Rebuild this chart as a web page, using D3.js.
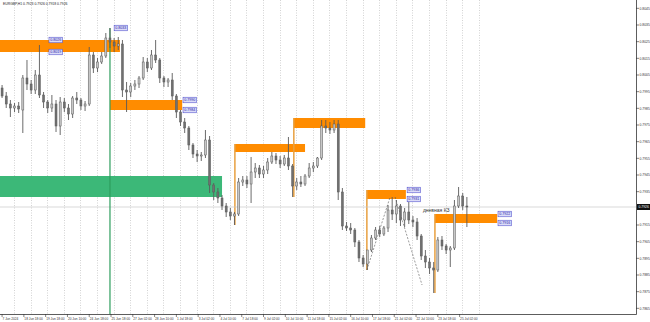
<!DOCTYPE html>
<html lang="en">
<head>
<meta charset="UTF-8">
<title>EURGBP,H1</title>
<script src="https://d3js.org/d3.v7.min.js"></script>
<style>
  body { margin: 0; background: #fff; }
  text { font-family: "Liberation Sans", Arial, sans-serif; }
</style>
</head>
<body>
<svg width="650" height="322"></svg>
<script>
  var openP = [0.79972,0.79924,0.79876,0.79852,0.79864,0.79840,0.80032,0.79996,0.79960,0.80050,
    0.79930,0.79888,0.79852,0.79876,0.79744,0.79888,0.79852,0.79816,0.79912,0.79900,
    0.79864,0.79876,0.80170,0.80092,0.80128,0.80164,0.80272,0.80248,0.80224,0.80236,
    0.79960,0.79948,0.79984,0.79996,0.80032,0.80128,0.80092,0.80170,0.80140,0.80032,
    0.80008,0.80020,0.79924,0.79828,0.79768,0.79732,0.79630,0.79576,0.79564,0.79570,
    0.79660,0.79390,0.79348,0.79312,0.79264,0.79228,0.79204,0.79216,0.79408,0.79420,
    0.79396,0.79468,0.79492,0.79456,0.79480,0.79528,0.79564,0.79540,0.79516,0.79552,
    0.79504,0.79384,0.79408,0.79396,0.79444,0.79492,0.79504,0.79552,0.79744,0.79732,
    0.79720,0.79756,0.79348,0.79144,0.79132,0.79120,0.79048,0.78952,0.78916,0.79000,
    0.79072,0.79120,0.79096,0.79132,0.79240,0.79216,0.79264,0.79180,0.79228,0.79180,
    0.79168,0.79084,0.78964,0.78928,0.78892,0.78880,0.79060,0.79024,0.79000,0.79012,
    0.79264,0.79324,0.79264];
  var highP = [0.79990,0.79948,0.79900,0.79882,0.79888,0.80050,0.80140,0.80020,0.80080,0.80230,
    0.79948,0.79900,0.79930,0.79900,0.79918,0.79912,0.79876,0.79924,0.79948,0.79912,
    0.79894,0.80218,0.80188,0.80152,0.80188,0.80302,0.80332,0.80272,0.80278,0.80260,
    0.80008,0.80002,0.80020,0.80044,0.80158,0.80152,0.80200,0.80260,0.80152,0.80044,
    0.80032,0.80062,0.79936,0.79840,0.79792,0.79744,0.79642,0.79600,0.79588,0.79720,
    0.79684,0.79402,0.79372,0.79330,0.79282,0.79252,0.79228,0.79432,0.79444,0.79444,
    0.79558,0.79522,0.79510,0.79504,0.79552,0.79588,0.79582,0.79564,0.79570,0.79678,
    0.79516,0.79432,0.79444,0.79456,0.79522,0.79528,0.79558,0.79780,0.79780,0.79768,
    0.79780,0.79780,0.79372,0.79168,0.79162,0.79132,0.79060,0.78970,0.78952,0.79090,
    0.79138,0.79144,0.79144,0.79270,0.79318,0.79300,0.79276,0.79252,0.79300,0.79204,
    0.79192,0.79096,0.79000,0.78952,0.78928,0.79078,0.79084,0.79036,0.79024,0.79300,
    0.79378,0.79342,0.79318];
  var lowP = [0.79912,0.79852,0.79798,0.79828,0.79822,0.79702,0.79960,0.79936,0.79936,0.79912,
    0.79852,0.79822,0.79828,0.79708,0.79690,0.79828,0.79780,0.79792,0.79876,0.79840,
    0.79834,0.79864,0.80062,0.80068,0.80116,0.80152,0.80212,0.80188,0.80200,0.79918,
    0.79828,0.79918,0.79960,0.79972,0.80020,0.80068,0.80080,0.80122,0.80002,0.79978,
    0.79978,0.79900,0.79792,0.79744,0.79702,0.79600,0.79552,0.79528,0.79534,0.79552,
    0.79342,0.79300,0.79282,0.79240,0.79198,0.79180,0.79150,0.79204,0.79384,0.79372,
    0.79282,0.79432,0.79432,0.79432,0.79456,0.79516,0.79516,0.79492,0.79504,0.79480,
    0.79318,0.79360,0.79378,0.79384,0.79432,0.79468,0.79492,0.79540,0.79702,0.79696,
    0.79702,0.79300,0.79120,0.79114,0.79096,0.79018,0.78928,0.78898,0.78880,0.78988,
    0.79060,0.79078,0.79084,0.79108,0.79180,0.79162,0.79144,0.79138,0.79156,0.79138,
    0.79060,0.78940,0.78892,0.78856,0.78742,0.78868,0.79000,0.78976,0.78898,0.79000,
    0.79252,0.79240,0.79138];
  var closeP = [0.79924,0.79876,0.79852,0.79864,0.79846,0.80032,0.79996,0.79960,0.80050,0.79930,
    0.79888,0.79852,0.79876,0.79744,0.79888,0.79852,0.79816,0.79912,0.79900,0.79864,
    0.79876,0.80170,0.80092,0.80128,0.80164,0.80272,0.80248,0.80224,0.80236,0.79960,
    0.79948,0.79984,0.79996,0.80032,0.80128,0.80092,0.80170,0.80140,0.80032,0.80008,
    0.80020,0.79924,0.79828,0.79768,0.79732,0.79630,0.79576,0.79564,0.79570,0.79660,
    0.79390,0.79348,0.79312,0.79264,0.79228,0.79204,0.79216,0.79408,0.79420,0.79396,
    0.79468,0.79492,0.79456,0.79480,0.79528,0.79564,0.79540,0.79516,0.79552,0.79504,
    0.79384,0.79408,0.79396,0.79444,0.79492,0.79504,0.79552,0.79744,0.79732,0.79720,
    0.79756,0.79348,0.79144,0.79132,0.79120,0.79048,0.78952,0.78916,0.79000,0.79072,
    0.79120,0.79096,0.79132,0.79240,0.79216,0.79264,0.79180,0.79228,0.79180,0.79168,
    0.79084,0.78964,0.78928,0.78892,0.78880,0.79060,0.79024,0.79000,0.79012,0.79264,
    0.79324,0.79264,0.79258];

  // time axis labels (one every 42 H1 bars)
  var timeLabels = ["7 Jun 2024","18 Jun 18:00","19 Jun 18:00","20 Jun 10:00","24 Jun 18:00",
    "25 Jun 18:00","27 Jun 02:00","28 Jun 10:00","1 Jul 18:00","3 Jul 02:00","4 Jul 10:00",
    "7 Jul 18:00","9 Jul 02:00","10 Jul 10:00","11 Jul 18:00","15 Jul 02:00","16 Jul 10:00",
    "17 Jul 18:00","21 Jul 02:00","22 Jul 10:00","23 Jul 18:00","25 Jul 02:00"];
  var priceTicks = [0.8045,0.8035,0.8025,0.8015,0.8005,0.7995,0.7985,0.7975,0.7965,0.7955,
    0.7945,0.7935,0.7915,0.7905,0.7895,0.7885,0.7875,0.7865];

  // zones: start / end candle, top / bottom price
  var orangeZones = [
    [-0.5, 28.4, 0.80260, 0.80188],
    [26, 43.4, 0.79900, 0.79840],
    [56.1, 73, 0.79636, 0.79588],
    [70.3, 87.5, 0.79792, 0.79732],
    [87.9, 97.3, 0.79360, 0.79306],
    [104.3, 119.3, 0.79216, 0.79162]
  ];
  var greenZone = [-0.5, 53, 0.79444, 0.79318];
  // orange verticals: candle, from price, to price
  var orangeLines = [[56.1, 0.79636, 0.79150], [70.3, 0.79792, 0.79318],
    [87.9, 0.79360, 0.78880], [104.3, 0.79216, 0.78742]];
  var greenLine = [26, 0.80332];
  // dashed trend lines: [candle1, price1, candle2, price2]
  var trendLines = [[87.9, 0.78880, 93.5, 0.79318], [94.7, 0.79318, 101.2, 0.78790]];
  // level price tags: candle, price
  var levelTags = [[11.3, 0.80260], [11.3, 0.80188], [27, 0.80332], [43.6, 0.79900],
    [43.6, 0.79840], [97.6, 0.79360], [97.6, 0.79306], [119.5, 0.79216], [119.5, 0.79162]];

  var svg = d3.select("svg");
  var plotRight = 636, plotBottom = 314;

  var x = d3.scaleLinear().domain([-0.5, 152.75]).range([0, plotRight]);
  var y = d3.scaleLinear().domain([0.78616, 0.80500]).range([plotBottom, 0]);

  // vertical dotted grid, every 4 candles
  var gridIdx = d3.range(0, 29).map(function(k) { return 2.87 + 4 * k; });
  svg.append("g").selectAll("line").data(gridIdx).enter().append("line")
    .attr("x1", function(d) { return Math.round(x(d)) + 0.5; })
    .attr("x2", function(d) { return Math.round(x(d)) + 0.5; })
    .attr("y1", 0).attr("y2", plotBottom)
    .attr("stroke", "#c0c0c0").attr("stroke-width", 0.7)
    .attr("stroke-dasharray", "1,1.5");

  // zones
  svg.append("rect")
    .attr("x", x(greenZone[0])).attr("width", x(greenZone[1]) - x(greenZone[0]))
    .attr("y", y(greenZone[2])).attr("height", y(greenZone[3]) - y(greenZone[2]))
    .attr("fill", "#3cb878");

  svg.append("g").selectAll("rect").data(orangeZones).enter().append("rect")
    .attr("x", function(d) { return x(d[0]); })
    .attr("width", function(d) { return x(d[1]) - x(d[0]); })
    .attr("y", function(d) { return y(d[2]); })
    .attr("height", function(d) { return y(d[3]) - y(d[2]); })
    .attr("fill", "#ff8c00");

  svg.append("g").selectAll("line").data(orangeLines).enter().append("line")
    .attr("x1", function(d) { return x(d[0]); }).attr("x2", function(d) { return x(d[0]); })
    .attr("y1", function(d) { return y(d[1]); }).attr("y2", function(d) { return y(d[2]); })
    .attr("stroke", "#e8a040").attr("stroke-width", 1.5);

  // current price line
  var last = closeP[closeP.length - 1];
  svg.append("line")
    .attr("x1", 0).attr("x2", plotRight)
    .attr("y1", y(last)).attr("y2", y(last))
    .attr("stroke", "#c8c8c8").attr("stroke-width", 0.7);

  // green vertical
  svg.append("line")
    .attr("x1", x(greenLine[0])).attr("x2", x(greenLine[0]))
    .attr("y1", y(greenLine[1])).attr("y2", plotBottom)
    .attr("stroke", "#2e9e5e").attr("stroke-width", 1.2);

  // dashed trend lines
  svg.append("g").selectAll("line").data(trendLines).enter().append("line")
    .attr("x1", function(d) { return x(d[0]); }).attr("y1", function(d) { return y(d[1]); })
    .attr("x2", function(d) { return x(d[2]); }).attr("y2", function(d) { return y(d[3]); })
    .attr("stroke", "#555").attr("stroke-width", 0.6)
    .attr("stroke-dasharray", "2,1.5");

  // candles
  var candles = svg.append("g").selectAll("g").data(openP).enter().append("g");
  candles.append("line")
    .attr("x1", function(d, i) { return x(i); }).attr("x2", function(d, i) { return x(i); })
    .attr("y1", function(d, i) { return y(highP[i]); })
    .attr("y2", function(d, i) { return y(lowP[i]); })
    .attr("stroke", "#5a5a5a").attr("stroke-width", 0.9);
  candles.append("rect")
    .attr("x", function(d, i) { return x(i) - 1; })
    .attr("width", 2)
    .attr("y", function(d, i) { return y(Math.max(d, closeP[i])); })
    .attr("height", function(d, i) { return Math.max(0.8, Math.abs(y(d) - y(closeP[i]))); })
    .attr("fill", function(d, i) { return closeP[i] >= d ? "#c8c8c8" : "#707070"; })
    .attr("stroke", "#5a5a5a").attr("stroke-width", 0.5);

  // level tags
  var tags = svg.append("g").selectAll("g").data(levelTags).enter().append("g");
  tags.append("rect")
    .attr("x", function(d) { return x(d[0]); })
    .attr("y", function(d) { return y(d[1]) - 2.8; })
    .attr("width", 13.5).attr("height", 5.6)
    .attr("fill", "#dcdcf8").attr("stroke", "#3c3cc8").attr("stroke-width", 0.5);
  tags.append("text")
    .attr("x", function(d) { return x(d[0]) + 1.2; })
    .attr("y", function(d) { return y(d[1]) + 1.3; })
    .attr("font-size", 3.6).attr("fill", "#2020a8")
    .text(function(d) { return d[1].toFixed(4); });

  // annotation
  svg.append("text")
    .attr("x", x(101.4)).attr("y", y(0.79240) + 1.5)
    .attr("font-size", 5).attr("fill", "#333")
    .text("дневная КЗ");

  // title
  svg.append("text")
    .attr("x", 3).attr("y", 5)
    .attr("font-size", 3.4).attr("fill", "#222")
    .text("EURGBP,H1  0.7923 0.7926 0.7918 0.7926");

  // axes frame
  svg.append("line").attr("x1", 0).attr("x2", plotRight + 0.5)
    .attr("y1", plotBottom + 0.5).attr("y2", plotBottom + 0.5)
    .attr("stroke", "#333").attr("stroke-width", 0.8);
  svg.append("line").attr("x1", plotRight + 0.5).attr("x2", plotRight + 0.5)
    .attr("y1", 0).attr("y2", plotBottom + 0.5)
    .attr("stroke", "#333").attr("stroke-width", 0.8);

  // price axis
  var pAxis = svg.append("g").selectAll("g").data(priceTicks).enter().append("g");
  pAxis.append("line")
    .attr("x1", plotRight).attr("x2", plotRight + 3)
    .attr("y1", function(d) { return y(d); }).attr("y2", function(d) { return y(d); })
    .attr("stroke", "#333").attr("stroke-width", 0.6);
  pAxis.append("text")
    .attr("x", plotRight + 3.5).attr("y", function(d) { return y(d) + 1.2; })
    .attr("font-size", 3.4).attr("fill", "#333")
    .text(function(d) { return d.toFixed(4); });

  // current price tag
  svg.append("rect")
    .attr("x", plotRight + 1).attr("y", y(last) - 3)
    .attr("width", 13).attr("height", 6).attr("fill", "#111");
  svg.append("text")
    .attr("x", plotRight + 2.5).attr("y", y(last) + 1.2)
    .attr("font-size", 3.4).attr("fill", "#fff")
    .text(last.toFixed(4));

  // time axis
  var tAxis = svg.append("g").selectAll("g").data(timeLabels).enter().append("g");
  tAxis.append("line")
    .attr("x1", function(d, i) { return x(5.25 * i); })
    .attr("x2", function(d, i) { return x(5.25 * i); })
    .attr("y1", plotBottom).attr("y2", plotBottom + 3)
    .attr("stroke", "#333").attr("stroke-width", 0.6);
  tAxis.append("text")
    .attr("x", function(d, i) { return x(5.25 * i) + 0.5; })
    .attr("y", plotBottom + 5.5)
    .attr("font-size", 3.2).attr("fill", "#333")
    .text(function(d) { return d; });
</script>
</body>
</html>
